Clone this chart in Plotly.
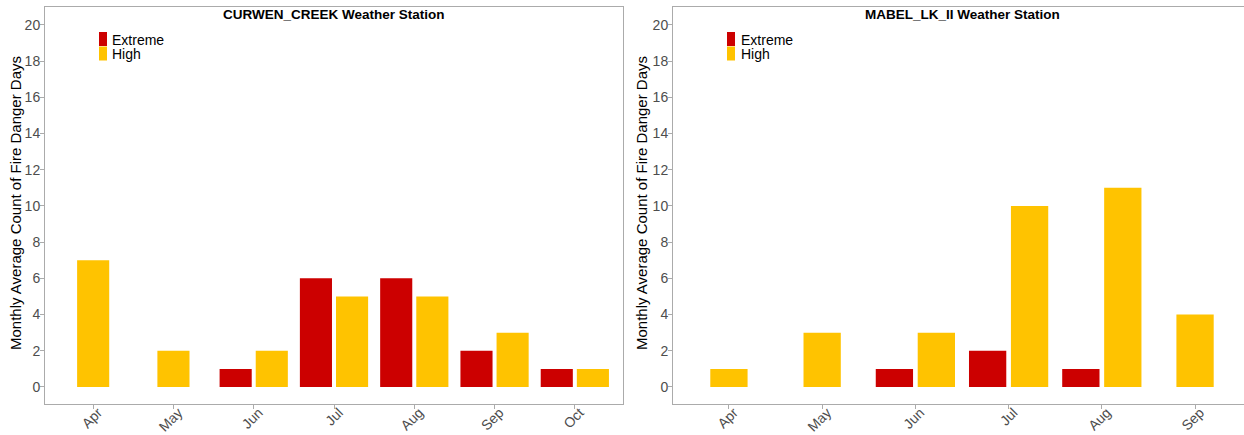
import plotly.graph_objects as go

# Monthly average count of fire danger days per weather station
curwen_months = ["Apr", "May", "Jun", "Jul", "Aug", "Sep", "Oct"]
curwen_extreme = [None, None, 1, 6, 6, 2, 1]
curwen_high = [7, 2, 2, 5, 5, 3, 1]

mabel_months = ["Apr", "May", "Jun", "Jul", "Aug", "Sep"]
mabel_extreme = [None, None, 1, 2, 1, None]
mabel_high = [1, 3, 3, 10, 11, 4]

series_names = ["Extreme", "High"]
series_colors = ["#CC0000", "#FFC300"]

W, H = 1244, 435
FONT = "Liberation Sans, Arial, sans-serif"
AXIS_GREY = "#ababab"
TICK_GREY = "#4d4d4d"

BAR_W = 0.4
OFFSET = 0.225


def px_x(p):
    return p / W


def px_y(p):
    return 1 - p / H


def dodge(values_by_series):
    """Dodge positions; a month with a single series keeps its bar centred."""
    n = len(values_by_series[0])
    pos = [[None] * n for _ in values_by_series]
    for i in range(n):
        present = [k for k, vals in enumerate(values_by_series) if vals[i] is not None]
        if len(present) == 1:
            pos[present[0]][i] = i
        else:
            for j, k in enumerate(present):
                pos[k][i] = i + (j - (len(present) - 1) / 2) * 2 * OFFSET
    return pos


fig = go.Figure()

panels = [
    (curwen_months, [curwen_extreme, curwen_high], "x", "y"),
    (mabel_months, [mabel_extreme, mabel_high], "x2", "y2"),
]
for months, series, xa, ya in panels:
    positions = dodge(series)
    for name, color, vals, xs in zip(series_names, series_colors, series, positions):
        px_ = [x for x, v in zip(xs, vals) if v is not None]
        py_ = [v for v in vals if v is not None]
        fig.add_trace(go.Bar(
            x=px_, y=py_, width=BAR_W, name=name,
            marker=dict(color=color, line=dict(width=0)),
            xaxis=xa, yaxis=ya, showlegend=False,
        ))

y_dom = [31 / H, 428 / H]
common_x = dict(
    showline=True, linecolor=AXIS_GREY, linewidth=1, mirror=True,
    showgrid=False, zeroline=False, ticks="outside", ticklen=4,
    tickcolor=AXIS_GREY, tickangle=-45, automargin=False,
    ticklabelstandoff=-10, ticklabelshift=5,
    tickfont=dict(family=FONT, size=14, color=TICK_GREY),
)
common_y = dict(
    showline=True, linecolor=AXIS_GREY, linewidth=1,
    showgrid=False, zeroline=False, ticks="outside", ticklen=4,
    tickcolor=AXIS_GREY, range=[-0.94, 20.99], automargin=False,
    ticklabelstandoff=-3,
    tickvals=list(range(0, 21, 2)),
    tickfont=dict(family=FONT, size=14, color=TICK_GREY),
    domain=y_dom,
)

fig.update_layout(
    width=W, height=H,
    margin=dict(l=0, r=0, t=0, b=0, autoexpand=False),
    paper_bgcolor="white", plot_bgcolor="white",
    barmode="overlay",
    xaxis=dict(common_x, domain=[45 / W, 623 / W], range=[-0.6, 6.6],
               tickvals=list(range(len(curwen_months))), ticktext=curwen_months,
               anchor="y"),
    yaxis=dict(common_y, mirror=True, anchor="x"),
    xaxis2=dict(common_x, domain=[673 / W, 1.0], range=[-0.6, 5.525],
                tickvals=list(range(len(mabel_months))), ticktext=mabel_months,
                anchor="y2"),
    yaxis2=dict(common_y, mirror=False, anchor="x2"),
)

annotations = []
shapes = []

# Panel titles
for text, cx in [("CURWEN_CREEK Weather Station", 334),
                 ("MABEL_LK_II Weather Station", 962)]:
    annotations.append(dict(
        text=f"<b>{text}</b>", x=px_x(cx), y=px_y(15), xref="paper", yref="paper",
        xanchor="center", yanchor="middle", showarrow=False,
        font=dict(family=FONT, size=13.5, color="black"),
    ))

# Y-axis titles
for cx in [15, 641]:
    annotations.append(dict(
        text="Monthly Average Count of Fire Danger Days", textangle=-90,
        x=px_x(cx), y=px_y(203), xref="paper", yref="paper",
        xanchor="center", yanchor="middle", showarrow=False,
        font=dict(family=FONT, size=15, color="black"),
    ))

# Legends inside each panel
for kx, tx in [(99, 110), (727, 739)]:
    for i, (name, color) in enumerate(zip(series_names, series_colors)):
        top = 32 + i * 14.5
        shapes.append(dict(
            type="rect", xref="paper", yref="paper",
            x0=px_x(kx), x1=px_x(kx + 8), y0=px_y(top + 14), y1=px_y(top),
            fillcolor=color, line=dict(width=0),
        ))
        annotations.append(dict(
            text=name, x=px_x(tx), y=px_y(top + 7.5), xref="paper", yref="paper",
            xanchor="left", yanchor="middle", showarrow=False,
            font=dict(family=FONT, size=14, color="black"),
        ))

fig.update_layout(annotations=annotations, shapes=shapes)
fig.write_html("out.html")
